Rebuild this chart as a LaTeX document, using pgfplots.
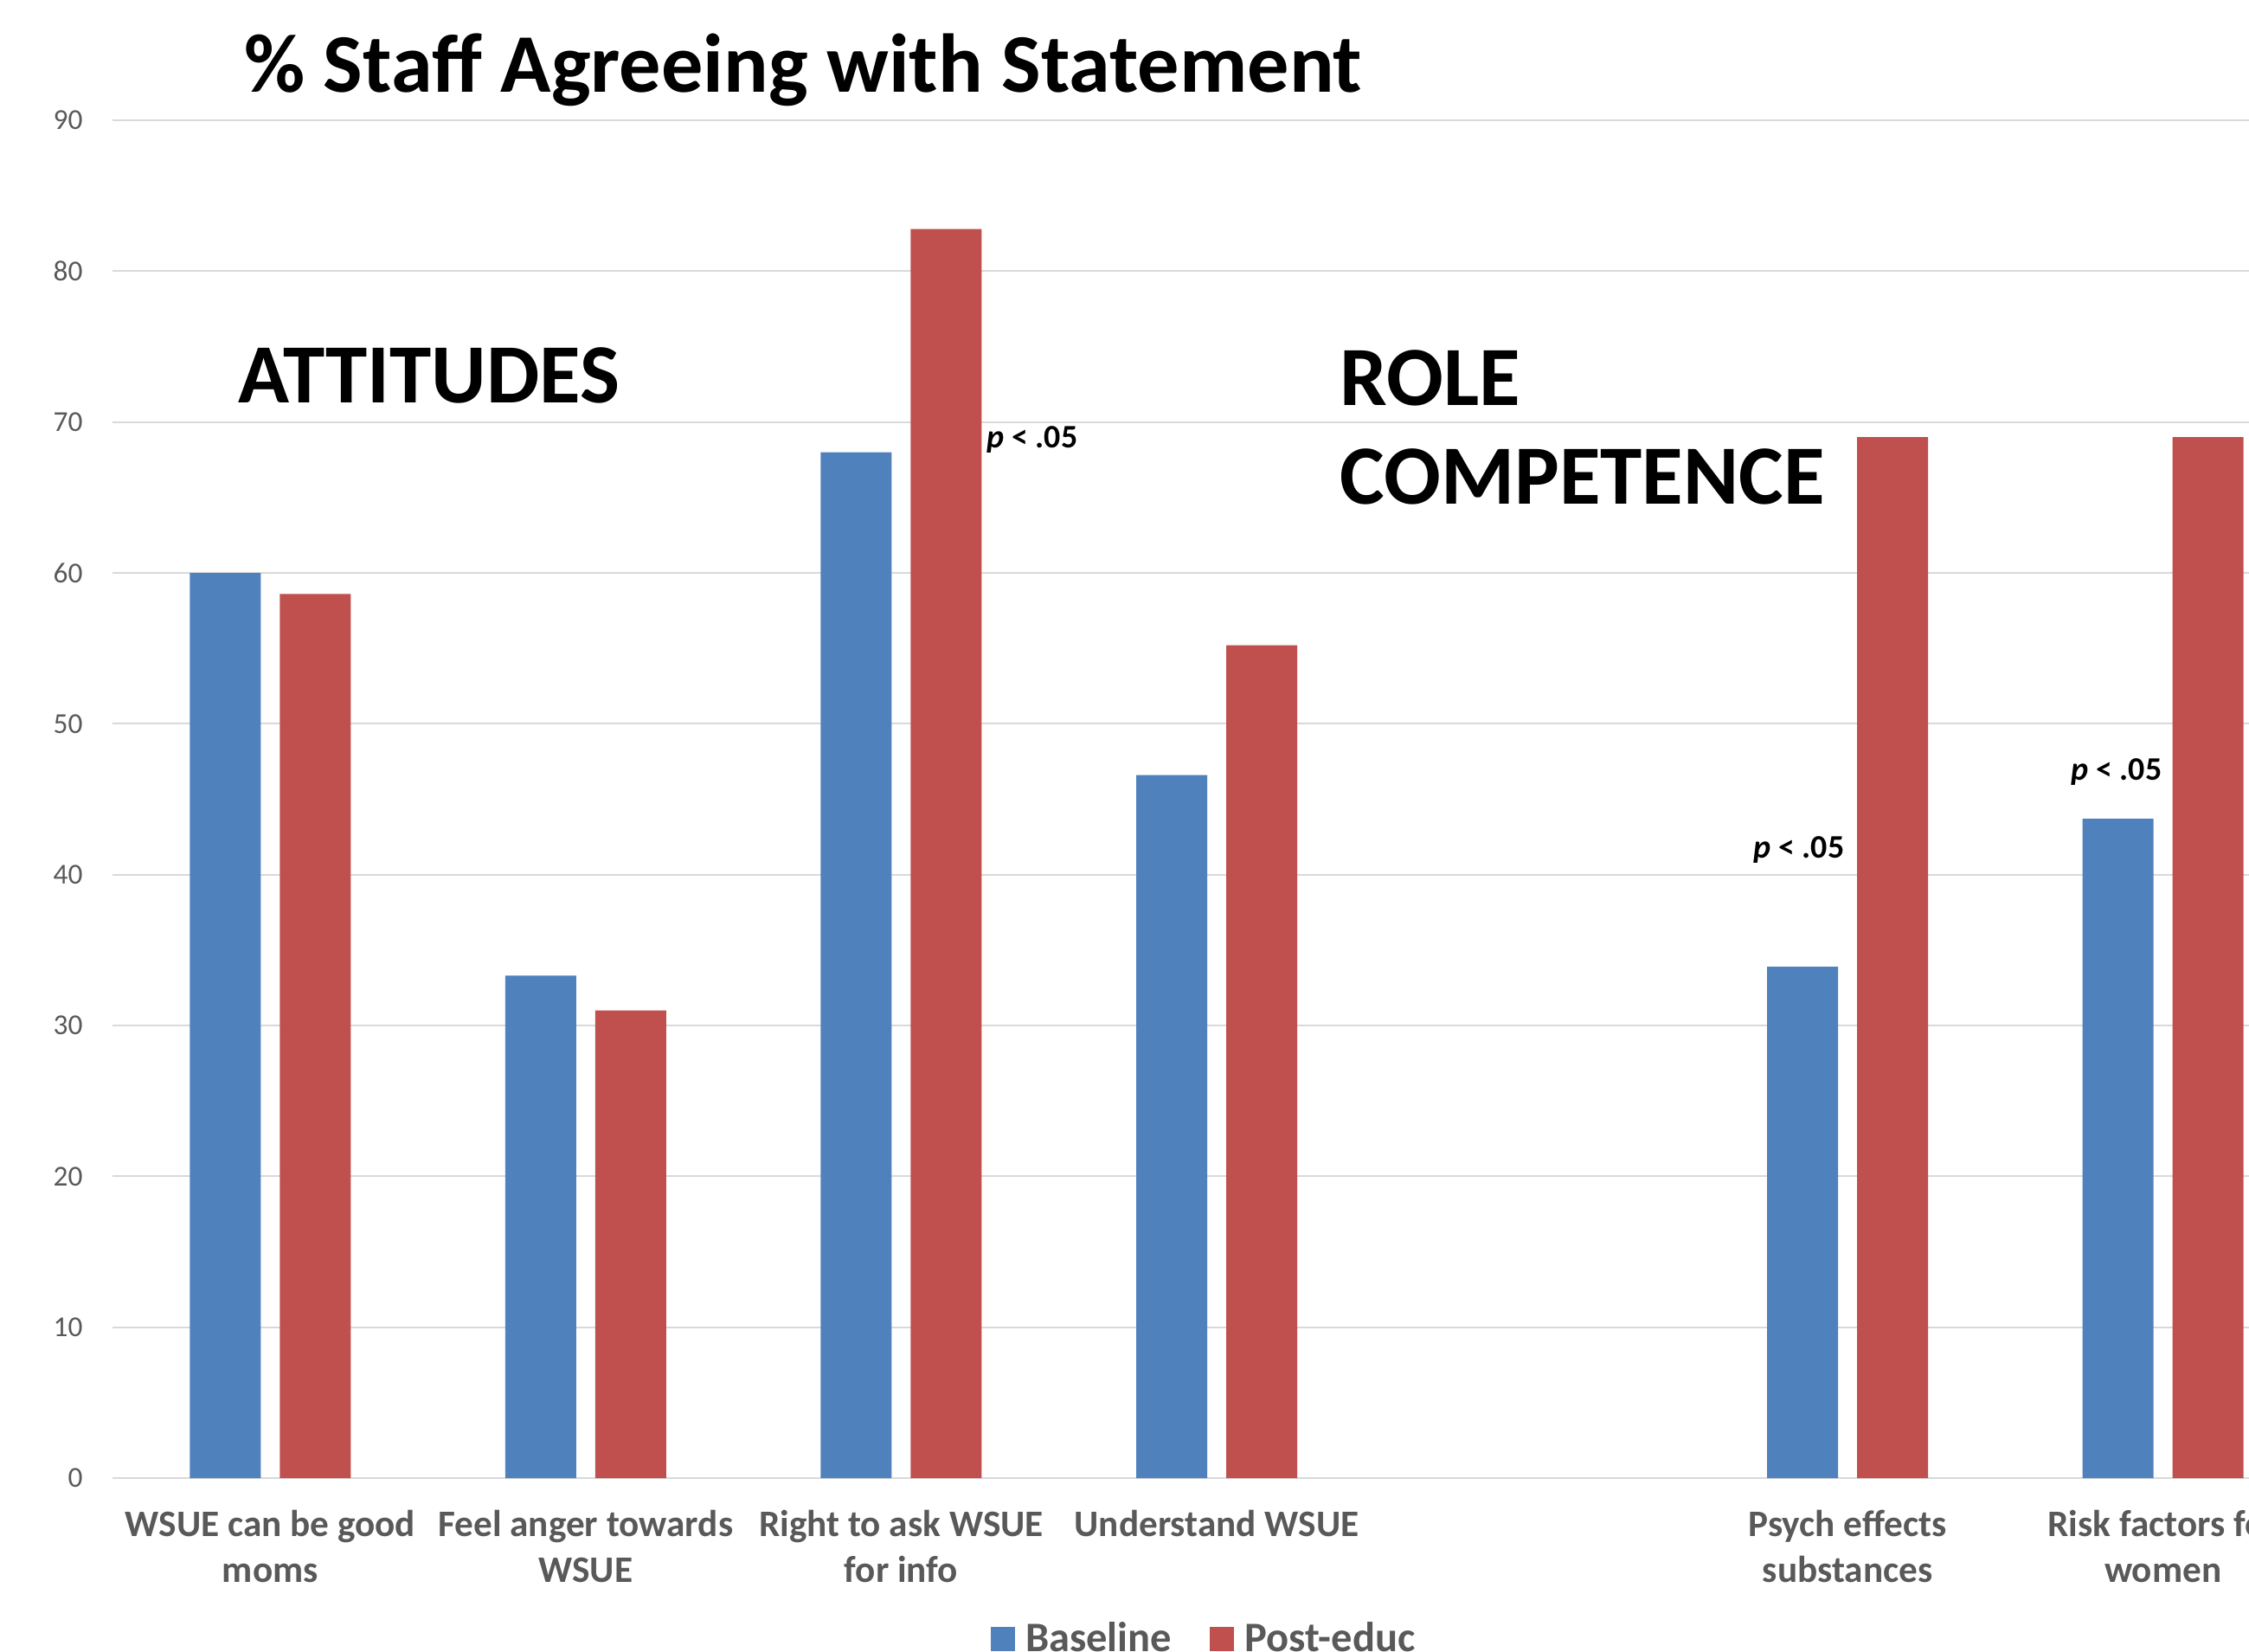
\documentclass[border=0pt]{standalone}
\usepackage{fontspec}
\setmainfont{Carlito}
\usepackage{pgfplots}
\pgfplotsset{compat=1.18}
\definecolor{cblue}{HTML}{4F81BD}
\definecolor{cred}{HTML}{C0504D}
\definecolor{cgrid}{HTML}{D9D9D9}
\definecolor{ctext}{HTML}{595959}
\begin{document}
\begin{tikzpicture}
\useasboundingbox (0,0) rectangle (25.99,19.08);
\clip (0,0) rectangle (25.99,19.08);
\begin{axis}[
  at={(1.30cm,2.00cm)}, anchor=south west,
  scale only axis, width=25.52cm, height=15.69cm,
  xmin=-0.5, xmax=6.5, ymin=0, ymax=90,
  ybar=0.22cm, bar width=0.82cm,
  axis line style={draw=none},
  tick style={draw=none},
  major tick length=0pt,
  ymajorgrids, grid style={cgrid, line width=0.57pt},
  ytick={0,10,...,90},
  xtick={0,1,2,3,4,5,6},
  xticklabels={{WSUE can be good\\moms},{Feel anger towards\\WSUE},{Right to ask WSUE\\for info},{Understand WSUE},{},{Psych effects\\substances},{Risk factors for\\women}},
  xticklabel style={align=center, font=\fontsize{12.3}{15}\selectfont\bfseries, text=ctext, anchor=north, yshift=-0.25cm},
  yticklabel style={font=\fontsize{9.5}{11}\selectfont, text=ctext, anchor=east, xshift=-0.22cm},
  /pgf/number format/assume math mode=true,
  every axis plot post/.append style={legend image code/.code={\path[##1] (0cm,-0.14cm) rectangle (0.28cm,0.14cm);}},
  legend style={draw=none, fill=none, legend columns=2, at={(axis description cs:0.4952,-0.1185)}, anchor=center,
    font=\fontsize{13.8}{15}\selectfont\bfseries, text=ctext,
    nodes={inner ysep=0pt},
    /tikz/every odd column/.append style={column sep=0.05cm},
    /tikz/every even column/.append style={column sep=0.37cm}},
]
\addplot[fill=cblue, draw=none] coordinates {(0,60.0) (1,33.3) (2,68.0) (3,46.6) (5,33.9) (6,43.7)};
\addplot[fill=cred, draw=none] coordinates {(0,58.6) (1,31.0) (2,82.8) (3,55.2) (5,69.0) (6,69.0)};
\legend{Baseline, Post-educ}
\end{axis}
\node[anchor=base, inner sep=0, font=\fontsize{27.4}{30}\selectfont\bfseries] at (9.28,18.01) {\% Staff Agreeing with Statement};
\node[anchor=base west, inner sep=0, font=\fontsize{27.7}{30}\selectfont\bfseries] at (2.75,14.42) {ATTITUDES};
\node[anchor=base west, inner sep=0, font=\fontsize{27.7}{30}\selectfont\bfseries] at (15.48,14.39) {ROLE};
\node[anchor=base west, inner sep=0, font=\fontsize{27.7}{30}\selectfont\bfseries] at (15.48,13.25) {COMPETENCE};
\node[inner sep=0, font=\fontsize{10.8}{12}\selectfont\bfseries] at (11.93,14.00) {\textit{p} < .05};
\node[inner sep=0, font=\fontsize{10.8}{12}\selectfont\bfseries] at (20.79,9.26) {\textit{p} < .05};
\node[inner sep=0, font=\fontsize{10.8}{12}\selectfont\bfseries] at (24.46,10.16) {\textit{p} < .05};
\end{tikzpicture}
\end{document}
